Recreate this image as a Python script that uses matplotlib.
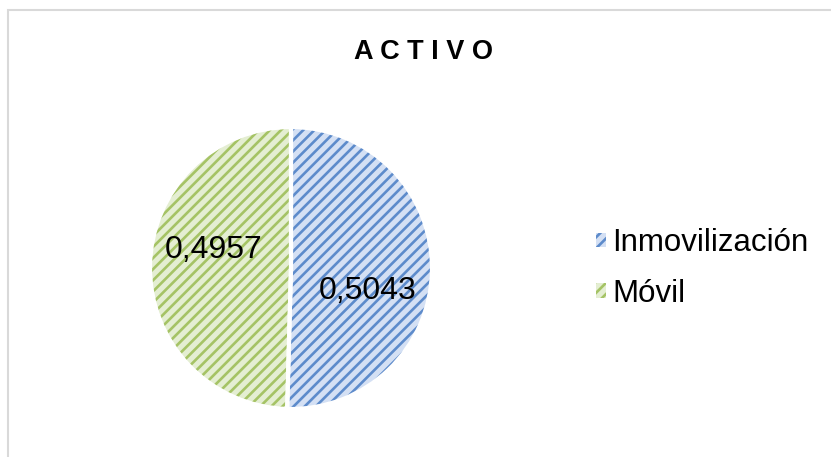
import matplotlib
matplotlib.use("Agg")
import matplotlib.pyplot as plt
from matplotlib.patches import Patch, Rectangle

plt.rcParams['font.family'] = ['Liberation Sans', 'DejaVu Sans']
plt.rcParams['hatch.linewidth'] = 1.9

title = "ACTIVO"
categories = ["Inmovilización", "Móvil"]
values = [0.5043, 0.4957]
value_labels = ["0,5043", "0,4957"]
face_colors = ["#d4e0f4", "#e4eed2"]
hatch_colors = ["#5d8bcb", "#a5c365"]

W, H = 831, 457
fig = plt.figure(figsize=(W / 100, H / 100), dpi=100)

# chart border
fig.patches.append(Rectangle((8 / W, -0.1), 1.2, (H - 10) / H + 0.1,
                             transform=fig.transFigure, fill=False,
                             edgecolor="#d9d9d9", linewidth=1.5))

cx, cy, r = 291, 268, 141
ax = fig.add_axes([(cx - r) / W, (H - cy - r) / H, 2 * r / W, 2 * r / H])
ax.set_aspect('equal')

wedges, _ = ax.pie(values, startangle=90, counterclock=False, radius=1.0,
                   wedgeprops=dict(linewidth=0))
for w, fc, hc in zip(wedges, face_colors, hatch_colors):
    w.set_facecolor(fc)
    w.set_edgecolor(hc)
    w.set_hatch('///')
    w.set_linewidth(0)

# white separators / outline
ax.pie(values, startangle=90, counterclock=False, radius=1.0,
       wedgeprops=dict(facecolor='none', edgecolor='white', linewidth=3))

# value labels
ax.text(0.54, -0.16, value_labels[0], ha='center', va='center', fontsize=23, color='#000000')
ax.text(-0.55, 0.13, value_labels[1], ha='center', va='center', fontsize=23, color='#000000')
ax.set_xlim(-1.0, 1.0)
ax.set_ylim(-1.0, 1.0)
ax.axis('off')

fig.text(423 / W, 1 - 52 / H, " ".join(title), ha='center', va='center',
         fontsize=19.5, fontweight='bold', color='#000000')

handles = []
for fc, hc in zip(face_colors, hatch_colors):
    handles.append(Patch(facecolor=fc, edgecolor=hc, hatch='///', linewidth=0))
fig.legend(handles, categories, loc='center left',
           bbox_to_anchor=(596 / W, 1 - 268.5 / H), frameon=False,
           fontsize=22.5, handlelength=0.33, handleheight=0.33,
           handletextpad=0.2, labelspacing=0.65, borderpad=0, borderaxespad=0)

fig.savefig("out.png", dpi=100, facecolor='white')
